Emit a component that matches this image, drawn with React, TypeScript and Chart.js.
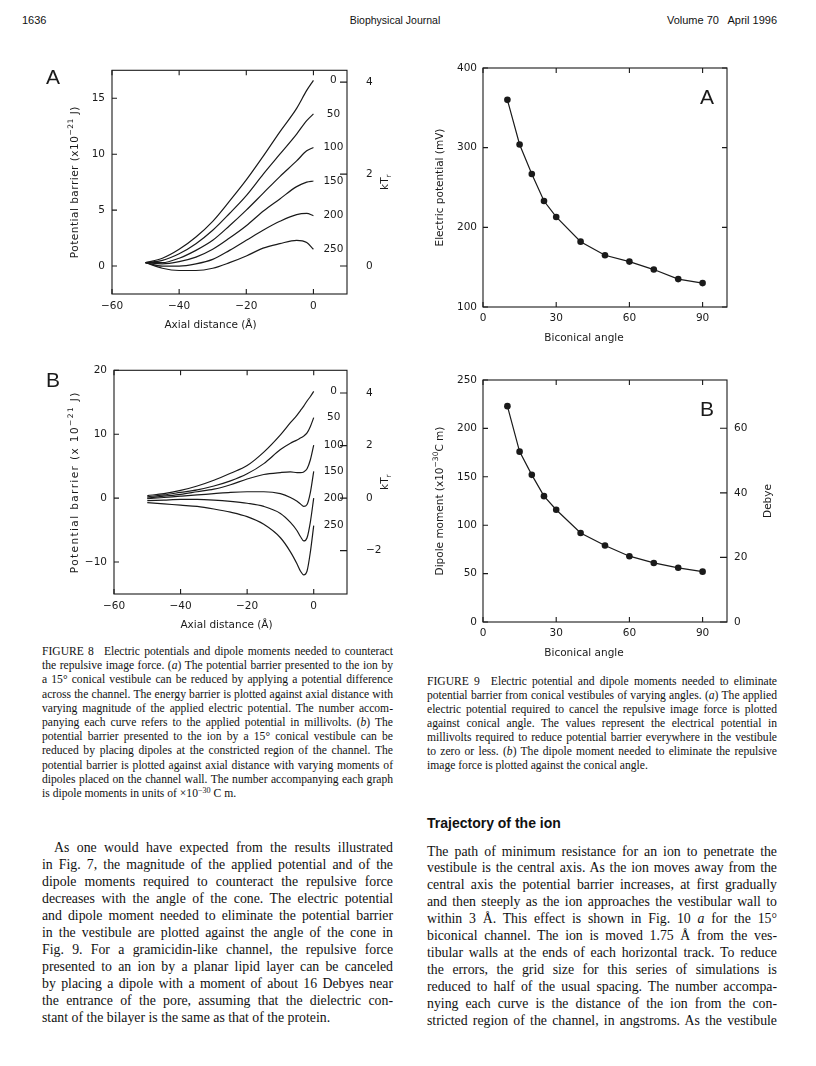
import React, { useEffect, useRef } from 'react';
import { Chart, registerables } from 'chart.js';

Chart.register(...registerables);

// ---------------- Figure 8A : barrier vs axial distance, applied potential ----------------
const AXIAL_8A = [-50, -45, -40, -35, -30, -25, -20, -15, -10, -5, -2, 0];
const BARRIER_8A_0 = [0.3, 0.7, 1.5, 2.6, 4.0, 5.8, 7.7, 9.8, 12.0, 14.1, 15.7, 16.6];
const BARRIER_8A_50 = [0.3, 0.5, 1.1, 2.0, 3.2, 4.7, 6.3, 8.2, 10.0, 11.8, 13.0, 13.6];
const BARRIER_8A_100 = [0.3, 0.3, 0.7, 1.4, 2.3, 3.6, 5.0, 6.5, 8.0, 9.4, 10.3, 10.6];
const BARRIER_8A_150 = [0.3, 0.2, 0.4, 0.8, 1.5, 2.5, 3.6, 4.9, 6.0, 7.1, 7.5, 7.6];
const BARRIER_8A_200 = [0.3, 0.0, 0.0, 0.2, 0.6, 1.4, 2.3, 3.2, 4.0, 4.6, 4.7, 4.5];
const BARRIER_8A_250 = [0.3, -0.2, -0.4, -0.4, -0.2, 0.3, 0.9, 1.6, 2.0, 2.3, 2.1, 1.5];
const POTENTIAL_LABELS = ['0', '50', '100', '150', '200', '250'];

// ---------------- Figure 8B : barrier vs axial distance, dipole moments ----------------
const AXIAL_8B = [-50, -45, -40, -35, -30, -25, -20, -15, -10, -7, -5, -4, -3, -2, -1, 0];
const BARRIER_8B_0 = [0.4, 0.7, 1.2, 1.9, 2.8, 3.9, 5.1, 7.2, 9.9, 11.8, 13.0, 13.7, 14.4, 15.2, 15.9, 16.7];
const BARRIER_8B_50 = [0.2, 0.5, 0.9, 1.3, 1.9, 2.7, 3.8, 5.4, 7.6, 8.6, 9.1, 9.4, 9.7, 10.2, 11.2, 12.6];
const BARRIER_8B_100 = [0.0, 0.3, 0.6, 1.0, 1.4, 2.1, 3.0, 3.7, 4.0, 4.1, 4.0, 4.0, 4.1, 4.6, 6.0, 8.3];
const BARRIER_8B_150 = [-0.1, 0.1, 0.3, 0.5, 0.7, 0.9, 1.0, 1.0, 0.7, 0.1, -0.5, -0.9, -1.3, -1.0, 0.9, 4.2];
const BARRIER_8B_200 = [-0.4, -0.3, -0.2, -0.2, -0.3, -0.5, -0.8, -1.3, -2.4, -3.8, -5.1, -6.0, -6.7, -6.2, -3.7, 0.0];
const BARRIER_8B_250 = [-0.7, -0.9, -1.1, -1.3, -1.7, -2.2, -2.9, -4.1, -6.2, -8.4, -10.3, -11.4, -12.0, -11.4, -8.4, -4.3];
const DIPOLE_LABELS = ['0', '50', '100', '150', '200', '250'];

const X_TICKS_8 = [-60, -40, -20, 0];
const Y_TICKS_8A = [0, 5, 10, 15];
const KT_TICKS_8A = [0, 2, 4];
const Y_TICKS_8B = [-10, 0, 10, 20];
const KT_TICKS_8B = [-2, 0, 2, 4];

// ---------------- Figure 9 : vs biconical angle ----------------
const ANGLES = [10, 15, 20, 25, 30, 40, 50, 60, 70, 80, 90];
const POTENTIAL_MV = [360, 304, 267, 233, 213, 182, 165, 157, 147, 135, 130];
const DIPOLE_MOMENT = [223, 176, 152, 130, 116, 92, 79, 68, 61, 56, 52];
const X_TICKS_9 = [0, 30, 60, 90];
const Y_TICKS_9A = [100, 200, 300, 400];
const Y_TICKS_9B = [0, 50, 100, 150, 200, 250];
const DEBYE_TICKS = [0, 20, 40, 60];

// unit conversions (physical constants)
const KT_IN_1E21_J = 4.11;
const DEBYE_IN_1E30_CM = 3.336;

const INK = '#1a1a1a';
const FONT = '"DejaVu Sans", sans-serif';
const SERIF = '"Liberation Serif", "Times New Roman", serif';
const SANS = '"Liberation Sans", Arial, sans-serif';

type Part = { t: string; sup?: boolean; sub?: boolean };

interface Spec {
  box: { left: number; top: number; width: number; height: number };
  rightW: number;
  topPad: number;
  hasY2: boolean;
  datasets: any[];
  scales: any;
  leftTitle: Part[];
  leftTitleDx: number;
  leftTitleSpacing?: number;
  rightTitle?: Part[];
  rightTitleDx?: number;
  xTitle: Part[];
  xTitleDy: number;
  xTitleDx?: number;
  labels?: string[];
  labelDx?: number;
  fontSize: number;
}

const fmt = (v: number) => (v < 0 ? '\u2212' + Math.abs(v) : String(v));

function drawRich(
  ctx: CanvasRenderingContext2D,
  parts: Part[],
  x: number,
  y: number,
  rot: number,
  size: number,
  spacing = 0
) {
  ctx.save();
  ctx.translate(x, y);
  ctx.rotate(rot);
  ctx.textBaseline = 'middle';
  ctx.textAlign = 'left';
  ctx.fillStyle = INK;
  (ctx as any).letterSpacing = spacing + 'px';
  const fontOf = (p: Part) => `${p.sup || p.sub ? size * 0.72 : size}px ${FONT}`;
  const widths = parts.map((p) => {
    ctx.font = fontOf(p);
    return ctx.measureText(p.t).width;
  });
  let cx = -widths.reduce((a, b) => a + b, 0) / 2;
  parts.forEach((p, i) => {
    ctx.font = fontOf(p);
    const dy = p.sup ? -size * 0.42 : p.sub ? size * 0.35 : 0;
    ctx.fillText(p.t, cx, dy);
    cx += widths[i];
  });
  ctx.restore();
}

function makeDecor(spec: Spec) {
  return {
    id: 'decor',
    afterDraw(chart: any) {
      const { ctx, chartArea: a, scales } = chart;
      const L = 5;
      ctx.save();
      ctx.strokeStyle = INK;
      ctx.lineWidth = 1.1;
      ctx.strokeRect(a.left, a.top, a.right - a.left, a.bottom - a.top);
      ctx.beginPath();
      scales.x.ticks.forEach((t: any) => {
        const px = scales.x.getPixelForValue(t.value);
        ctx.moveTo(px, a.bottom);
        ctx.lineTo(px, a.bottom - L);
        ctx.moveTo(px, a.top);
        ctx.lineTo(px, a.top + L);
      });
      scales.y.ticks.forEach((t: any) => {
        const py = scales.y.getPixelForValue(t.value);
        ctx.moveTo(a.left, py);
        ctx.lineTo(a.left + L, py);
        if (!spec.hasY2) {
          ctx.moveTo(a.right, py);
          ctx.lineTo(a.right - L, py);
        }
      });
      if (spec.hasY2) {
        scales.y2.ticks.forEach((t: any) => {
          const py = scales.y2.getPixelForValue(t.value);
          ctx.moveTo(a.right, py);
          ctx.lineTo(a.right - L - 2, py);
        });
      }
      ctx.stroke();
      ctx.restore();

      const midY = (a.top + a.bottom) / 2;
      const midX = (a.left + a.right) / 2;
      drawRich(ctx, spec.leftTitle, a.left + spec.leftTitleDx, midY, -Math.PI / 2, spec.fontSize, spec.leftTitleSpacing || 0);
      if (spec.rightTitle)
        drawRich(ctx, spec.rightTitle, a.right + (spec.rightTitleDx || 0), midY, -Math.PI / 2, spec.fontSize);
      drawRich(ctx, spec.xTitle, midX + (spec.xTitleDx || 0), a.bottom + spec.xTitleDy, 0, spec.fontSize);

      if (spec.labels) {
        ctx.save();
        ctx.font = `${spec.fontSize}px ${FONT}`;
        ctx.fillStyle = INK;
        ctx.textAlign = 'center';
        ctx.textBaseline = 'middle';
        spec.labels.forEach((lab, i) => {
          const meta = chart.getDatasetMeta(i);
          const last = meta.data[meta.data.length - 1];
          ctx.fillText(lab, last.x + (spec.labelDx || 0), last.y);
        });
        ctx.restore();
      }
    },
  };
}

function axis(pos: string, min: number, max: number, ticks: number[], size: number, padding: number, fontSize: number) {
  return {
    type: 'linear',
    position: pos,
    min,
    max,
    afterBuildTicks: (s: any) => {
      s.ticks = ticks.map((v) => ({ value: v }));
    },
    afterFit: (s: any) => {
      if (pos === 'bottom') s.height = size;
      else s.width = size;
    },
    grid: { display: false, drawTicks: false },
    border: { display: false },
    ticks: {
      color: INK,
      font: { family: FONT, size: fontSize },
      padding,
      autoSkip: false,
      maxRotation: 0,
      minRotation: 0,
      callback: (v: number) => fmt(v),
    },
  };
}

function curve(xs: number[], ys: number[], label: string) {
  return {
    label,
    data: xs.map((x, i) => ({ x, y: ys[i] })),
    borderColor: INK,
    borderWidth: 1.2,
    pointRadius: 0,
    cubicInterpolationMode: 'monotone',
    fill: false,
  };
}

function dotted(xs: number[], ys: number[], label: string) {
  return {
    label,
    data: xs.map((x, i) => ({ x, y: ys[i] })),
    borderColor: INK,
    borderWidth: 1.2,
    pointRadius: 3.3,
    pointBackgroundColor: INK,
    pointBorderColor: INK,
    pointBorderWidth: 0,
    tension: 0,
    fill: false,
  };
}

const FS8 = 10.5;
const FS9 = 10.5;

const SPEC_8A: Spec = {
  box: { left: 20, top: 45, width: 390, height: 300 },
  rightW: 63,
  topPad: 18,
  hasY2: true,
  fontSize: FS8,
  datasets: [
    curve(AXIAL_8A, BARRIER_8A_0, POTENTIAL_LABELS[0]),
    curve(AXIAL_8A, BARRIER_8A_50, POTENTIAL_LABELS[1]),
    curve(AXIAL_8A, BARRIER_8A_100, POTENTIAL_LABELS[2]),
    curve(AXIAL_8A, BARRIER_8A_150, POTENTIAL_LABELS[3]),
    curve(AXIAL_8A, BARRIER_8A_200, POTENTIAL_LABELS[4]),
    curve(AXIAL_8A, BARRIER_8A_250, POTENTIAL_LABELS[5]),
  ],
  scales: {
    x: axis('bottom', -60, 10, X_TICKS_8, 51, 6, FS8),
    y: axis('left', -2.5, 17.5, Y_TICKS_8A, 92, 7, FS8),
    y2: axis('right', -2.5 / KT_IN_1E21_J, 17.5 / KT_IN_1E21_J, KT_TICKS_8A, 63, 19, FS8),
  },
  leftTitle: [{ t: 'Potential barrier (x10' }, { t: '\u221221', sup: true }, { t: ' J)' }],
  leftTitleDx: -37,
  leftTitleSpacing: 0.5,
  rightTitle: [{ t: 'kT' }, { t: 'r', sub: true }],
  rightTitleDx: 38,
  xTitle: [{ t: 'Axial distance (\u00C5)' }],
  xTitleDy: 31,
  xTitleDx: -19,
  labels: POTENTIAL_LABELS,
  labelDx: 20,
};

const SPEC_8B: Spec = {
  box: { left: 20, top: 345, width: 390, height: 300 },
  rightW: 63,
  topPad: 18,
  hasY2: true,
  fontSize: FS8,
  datasets: [
    curve(AXIAL_8B, BARRIER_8B_0, DIPOLE_LABELS[0]),
    curve(AXIAL_8B, BARRIER_8B_50, DIPOLE_LABELS[1]),
    curve(AXIAL_8B, BARRIER_8B_100, DIPOLE_LABELS[2]),
    curve(AXIAL_8B, BARRIER_8B_150, DIPOLE_LABELS[3]),
    curve(AXIAL_8B, BARRIER_8B_200, DIPOLE_LABELS[4]),
    curve(AXIAL_8B, BARRIER_8B_250, DIPOLE_LABELS[5]),
  ],
  scales: {
    x: axis('bottom', -60, 10, X_TICKS_8, 51, 6, FS8),
    y: axis('left', -15, 20, Y_TICKS_8B, 94, 7, FS8),
    y2: axis('right', -15 / KT_IN_1E21_J, 20 / KT_IN_1E21_J, KT_TICKS_8B, 63, 19, FS8),
  },
  leftTitle: [{ t: 'Potential barrier (x 10' }, { t: '\u221221', sup: true }, { t: ' J)' }],
  leftTitleDx: -39,
  leftTitleSpacing: 1.4,
  rightTitle: [{ t: 'kT' }, { t: 'r', sub: true }],
  rightTitleDx: 38,
  xTitle: [{ t: 'Axial distance (\u00C5)' }],
  xTitleDy: 31,
  xTitleDx: -4,
  labels: DIPOLE_LABELS,
  labelDx: 20,
};

const SPEC_9A: Spec = {
  box: { left: 410, top: 50, width: 400, height: 300 },
  rightW: 83,
  topPad: 18,
  hasY2: false,
  fontSize: FS9,
  datasets: [dotted(ANGLES, POTENTIAL_MV, 'Electric potential')],
  scales: {
    x: axis('bottom', 0, 100, X_TICKS_9, 43, 5, FS9),
    y: axis('left', 100, 400, Y_TICKS_9A, 73, 6, FS9),
  },
  leftTitle: [{ t: 'Electric potential (mV)' }],
  leftTitleDx: -43,
  xTitle: [{ t: 'Biconical angle' }],
  xTitleDy: 31,
  xTitleDx: -21,
};

const SPEC_9B: Spec = {
  box: { left: 410, top: 360, width: 400, height: 310 },
  rightW: 83,
  topPad: 20,
  hasY2: true,
  fontSize: FS9,
  datasets: [dotted(ANGLES, DIPOLE_MOMENT, 'Dipole moment')],
  scales: {
    x: axis('bottom', 0, 100, X_TICKS_9, 48, 5, FS9),
    y: axis('left', 0, 250, Y_TICKS_9B, 73, 6, FS9),
    y2: axis('right', 0, 250 / DEBYE_IN_1E30_CM, DEBYE_TICKS, 83, 7, FS9),
  },
  leftTitle: [{ t: 'Dipole moment (x10' }, { t: '\u221230', sup: true }, { t: 'C m)' }],
  leftTitleDx: -43,
  rightTitle: [{ t: 'Debye' }],
  rightTitleDx: 41,
  xTitle: [{ t: 'Biconical angle' }],
  xTitleDy: 31,
  xTitleDx: -21,
};

function Panel({ spec }: { spec: Spec }) {
  const ref = useRef<HTMLCanvasElement | null>(null);
  useEffect(() => {
    if (!ref.current) return;
    const chart = new Chart(ref.current, {
      type: 'line',
      data: { datasets: spec.datasets },
      options: {
        animation: false,
        responsive: false,
        devicePixelRatio: 1,
        events: [],
        layout: { padding: { top: spec.topPad, left: 0, bottom: 0, right: spec.hasY2 ? 0 : spec.rightW } },
        plugins: { legend: { display: false }, tooltip: { enabled: false } },
        scales: spec.scales,
      },
      plugins: [makeDecor(spec)],
    } as any);
    return () => chart.destroy();
  }, [spec]);
  const b = spec.box;
  return (
    <canvas
      ref={ref}
      width={b.width}
      height={b.height}
      style={{ position: 'absolute', left: b.left, top: b.top, width: b.width, height: b.height }}
    />
  );
}

// ---------------- text ----------------
const CAPTION_8 = [
  'FIGURE 8\u2002 Electric potentials and dipole moments needed to counteract',
  'the repulsive image force. (*a*) The potential barrier presented to the ion by',
  'a 15\u00B0 conical vestibule can be reduced by applying a potential difference',
  'across the channel. The energy barrier is plotted against axial distance with',
  'varying magnitude of the applied electric potential. The number accom-',
  'panying each curve refers to the applied potential in millivolts. (*b*) The',
  'potential barrier presented to the ion by a 15\u00B0 conical vestibule can be',
  'reduced by placing dipoles at the constricted region of the channel. The',
  'potential barrier is plotted against axial distance with varying moments of',
  'dipoles placed on the channel wall. The number accompanying each graph',
  'is dipole moments in units of \u00D710^\u221230^ C m.',
];

const CAPTION_9 = [
  'FIGURE 9\u2002 Electric potential and dipole moments needed to eliminate',
  'potential barrier from conical vestibules of varying angles. (*a*) The applied',
  'electric potential required to cancel the repulsive image force is plotted',
  'against conical angle. The values represent the electrical potential in',
  'millivolts required to reduce potential barrier everywhere in the vestibule',
  'to zero or less. (*b*) The dipole moment needed to eliminate the repulsive',
  'image force is plotted against the conical angle.',
];

const BODY_LEFT = [
  'As one would have expected from the results illustrated',
  'in Fig. 7, the magnitude of the applied potential and of the',
  'dipole moments required to counteract the repulsive force',
  'decreases with the angle of the cone. The electric potential',
  'and dipole moment needed to eliminate the potential barrier',
  'in the vestibule are plotted against the angle of the cone in',
  'Fig. 9. For a gramicidin-like channel, the repulsive force',
  'presented to an ion by a planar lipid layer can be canceled',
  'by placing a dipole with a moment of about 16 Debyes near',
  'the entrance of the pore, assuming that the dielectric con-',
  'stant of the bilayer is the same as that of the protein.',
];

const BODY_RIGHT = [
  'The path of minimum resistance for an ion to penetrate the',
  'vestibule is the central axis. As the ion moves away from the',
  'central axis the potential barrier increases, at first gradually',
  'and then steeply as the ion approaches the vestibular wall to',
  'within 3 \u00C5. This effect is shown in Fig. 10 *a* for the 15\u00B0',
  'biconical channel. The ion is moved 1.75 \u00C5 from the ves-',
  'tibular walls at the ends of each horizontal track. To reduce',
  'the errors, the grid size for this series of simulations is',
  'reduced to half of the usual spacing. The number accompa-',
  'nying each curve is the distance of the ion from the con-',
  'stricted region of the channel, in angstroms. As the vestibule',
];

function rich(s: string) {
  const segs = s.split(/(\*[^*]+\*|\^[^^]+\^)/g);
  return segs.map((seg, k) => {
    if (!seg) return null;
    if (seg.startsWith('*') && seg.endsWith('*') && seg.length > 2) return <i key={k}>{seg.slice(1, -1)}</i>;
    if (seg.startsWith('^') && seg.endsWith('^') && seg.length > 2)
      return (
        <span key={k} style={{ fontSize: '0.7em', verticalAlign: '0.45em', lineHeight: 0 }}>
          {seg.slice(1, -1)}
        </span>
      );
    return <React.Fragment key={k}>{seg}</React.Fragment>;
  });
}

function Lines(props: {
  lines: string[];
  left: number;
  width: number;
  firstY: number;
  lh: number;
  size: number;
  indent?: number;
  justifyLast?: boolean;
}) {
  const { lines, left, width, firstY, lh, size, indent = 0, justifyLast = false } = props;
  return (
    <>
      {lines.map((ln, i) => {
        const isLast = i === lines.length - 1;
        const ind = i === 0 ? indent : 0;
        return (
          <div
            key={i}
            style={
              {
                position: 'absolute',
                left: left + ind,
                width: width - ind,
                top: firstY - lh / 2 + i * lh,
                height: lh,
                lineHeight: lh + 'px',
                fontFamily: SERIF,
                fontSize: size,
                color: '#111',
                whiteSpace: 'nowrap',
                textAlign: 'justify',
                textAlignLast: isLast && !justifyLast ? 'left' : 'justify',
              } as any
            }
          >
            {rich(ln)}
          </div>
        );
      })}
    </>
  );
}

const letterStyle = (left: number, top: number): any => ({
  position: 'absolute',
  left,
  top,
  fontFamily: SANS,
  fontSize: 21,
  lineHeight: '21px',
  color: INK,
});

export default function App() {
  return (
    <div
      style={{
        position: 'absolute',
        left: 0,
        top: 0,
        width: 816,
        height: 1066,
        background: '#fff',
        overflow: 'hidden',
      }}
    >
      <div style={{ position: 'absolute', left: 22, top: 13, fontFamily: SANS, fontSize: 11, lineHeight: '14px', color: '#111' }}>
        1636
      </div>
      <div
        style={{
          position: 'absolute',
          left: 297,
          width: 196,
          textAlign: 'center',
          top: 13,
          fontFamily: SANS,
          fontSize: 10.5,
          lineHeight: '14px',
          color: '#111',
        }}
      >
        Biophysical Journal
      </div>
      <div
        style={{
          position: 'absolute',
          right: 39,
          top: 13,
          fontFamily: SANS,
          fontSize: 11,
          lineHeight: '14px',
          color: '#111',
          whiteSpace: 'pre',
        }}
      >
        {'Volume 70   April 1996'}
      </div>

      <Panel spec={SPEC_8A} />
      <Panel spec={SPEC_8B} />
      <Panel spec={SPEC_9A} />
      <Panel spec={SPEC_9B} />

      <div style={letterStyle(46, 66)}>A</div>
      <div style={letterStyle(46, 369)}>B</div>
      <div style={letterStyle(700, 86)}>A</div>
      <div style={letterStyle(700, 398)}>B</div>

      <Lines lines={CAPTION_8} left={42} width={351} firstY={652} lh={14.2} size={11.6} />
      <Lines lines={CAPTION_9} left={427} width={350} firstY={682} lh={14} size={11.6} />

      <div
        style={{
          position: 'absolute',
          left: 427,
          top: 814,
          fontFamily: SANS,
          fontWeight: 'bold',
          fontSize: 14,
          lineHeight: '18px',
          color: '#111',
        }}
      >
        Trajectory of the ion
      </div>

      <Lines lines={BODY_LEFT} left={42} width={351} firstY={847} lh={17} size={13.8} indent={12} />
      <Lines lines={BODY_RIGHT} left={427} width={350} firstY={852} lh={16.9} size={13.8} justifyLast />
    </div>
  );
}
